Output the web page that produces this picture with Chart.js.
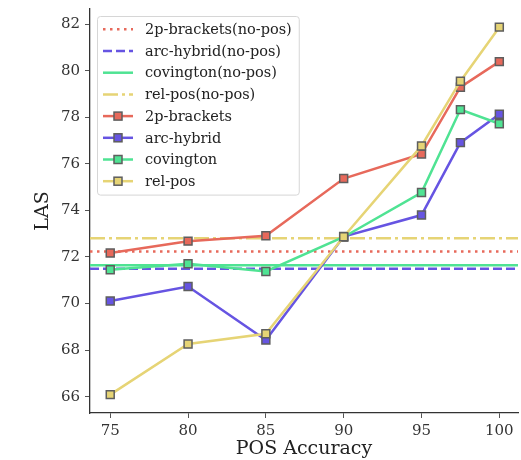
<!DOCTYPE html>
<html>
<head>
<meta charset="utf-8">
<script src="https://cdn.jsdelivr.net/npm/chart.js@4.4.1/dist/chart.umd.min.js"></script>
<style>
  html, body { margin: 0; padding: 0; background: #fff; }
  #wrap { width: 521px; height: 460px; }
</style>
</head>
<body>
<div id="wrap"><canvas id="las" width="521" height="460"></canvas></div>
<script>
// ---------------- data ----------------
var posAcc = [75, 80, 85, 90, 95, 97.5, 100];
var xTicks = [75, 80, 85, 90, 95, 100];
var yTicks = [66, 68, 70, 72, 74, 76, 78, 80, 82];
var parsers = ["2p-brackets", "arc-hybrid", "covington", "rel-pos"];
var las2p  = [72.17, 72.68, 72.91, 75.37, 76.42, 79.29, 80.39];
var lasArc = [70.11, 70.73, 68.43, 72.88, 73.80, 76.91, 78.13];
var lasCov = [71.45, 71.71, 71.38, 72.86, 74.77, 78.33, 77.72];
var lasRel = [66.09, 68.26, 68.70, 72.87, 76.77, 79.55, 81.87];
var lasNoPos = [72.24, 71.49, 71.64, 72.81];

var colors = ['#e7695b', '#6654e2', '#4fe393', '#e6d475'];
var dashes = [[2.5, 4.5], [9, 4], [], [15, 4, 3, 4]];
var xMin = 73.7, xMax = 101.2;
var serif = "'DejaVu Serif', 'Liberation Serif', serif";

var series = [las2p, lasArc, lasCov, lasRel];
var datasets = [];
var i;

// flat lines for the no-pos baselines
for (i = 0; i < parsers.length; i++) {
  datasets.push({
    label: parsers[i] + '(no-pos)',
    data: [{x: xMin, y: lasNoPos[i]}, {x: xMax, y: lasNoPos[i]}],
    borderColor: colors[i],
    borderWidth: 2.5,
    borderDash: dashes[i],
    pointRadius: 0,
    showLine: true,
    order: 20 - i
  });
}
// the curves with markers
for (i = 0; i < parsers.length; i++) {
  datasets.push({
    label: parsers[i],
    data: posAcc.map(function (x, j) { return {x: x, y: series[i][j]}; }),
    borderColor: colors[i],
    backgroundColor: colors[i],
    borderWidth: 2.5,
    pointStyle: 'rect',
    pointRadius: 5.6,
    pointBorderColor: '#5e5e5e',
    pointBorderWidth: 1.5,
    showLine: true,
    order: 10 - i
  });
}

// legend drawn inside the plot, matplotlib style
var legendBox = {
  id: 'legendBox',
  afterDatasetsDraw: function (chart) {
    var ctx = chart.ctx;
    var area = chart.chartArea;
    var sets = chart.data.datasets;
    ctx.save();
    ctx.font = '14.5px ' + serif;
    var maxW = 0;
    sets.forEach(function (d) { maxW = Math.max(maxW, ctx.measureText(d.label).width); });
    var bx = area.left + 7, by = area.top + 7;
    var bw = 48 + maxW + 7, rowH = 21.7, bh = 8 * rowH + 5;
    ctx.beginPath();
    if (ctx.roundRect) ctx.roundRect(bx + 0.5, by + 0.5, bw, bh, 3); else ctx.rect(bx + 0.5, by + 0.5, bw, bh);
    ctx.fillStyle = 'rgba(255,255,255,0.85)';
    ctx.fill();
    ctx.strokeStyle = '#d6d6d6';
    ctx.lineWidth = 1;
    ctx.stroke();
    sets.forEach(function (d, k) {
      var cy = by + 13.3 + k * rowH;
      ctx.beginPath();
      ctx.setLineDash(d.borderDash || []);
      ctx.strokeStyle = d.borderColor;
      ctx.lineWidth = 2.5;
      ctx.moveTo(bx + 6, cy);
      ctx.lineTo(bx + 36, cy);
      ctx.stroke();
      ctx.setLineDash([]);
      if (d.pointRadius > 0) {
        var s = 4;
        ctx.fillStyle = d.backgroundColor;
        ctx.fillRect(bx + 21 - s, cy - s, 2 * s, 2 * s);
        ctx.strokeStyle = '#5e5e5e';
        ctx.lineWidth = 1.5;
        ctx.strokeRect(bx + 21 - s, cy - s, 2 * s, 2 * s);
      }
      ctx.fillStyle = '#222';
      ctx.textBaseline = 'middle';
      ctx.fillText(d.label, bx + 48, cy + 1);
    });
    ctx.restore();
  }
};

new Chart(document.getElementById('las'), {
  type: 'scatter',
  data: { datasets: datasets },
  plugins: [legendBox],
  options: {
    responsive: false,
    animation: false,
    devicePixelRatio: 1,
    layout: { autoPadding: false, padding: { top: 9, right: 3, left: 0, bottom: 0 } },
    elements: { line: { tension: 0 } },
    plugins: { legend: { display: false }, tooltip: { enabled: false } },
    scales: {
      x: {
        type: 'linear',
        min: xMin, max: xMax,
        afterBuildTicks: function (s) { s.ticks = xTicks.map(function (v) { return {value: v}; }); },
        afterFit: function (s) { s.height = 47; s.paddingLeft = 0; s.paddingRight = 0; },
        grid: { drawOnChartArea: false, drawTicks: true, tickLength: 5, color: '#555' },
        border: { display: true, color: '#333', width: 1.3 },
        ticks: { color: '#333', padding: 4, font: { family: serif, size: 15 }, maxRotation: 0 },
        title: { display: true, text: 'POS Accuracy', color: '#222', padding: { top: 0, bottom: 0 }, font: { family: serif, size: 19 } }
      },
      y: {
        type: 'linear',
        min: 65.3, max: 82.65,
        afterBuildTicks: function (s) { s.ticks = yTicks.map(function (v) { return {value: v}; }); },
        afterFit: function (s) { s.width = 90; s.paddingTop = 0; s.paddingBottom = 0; },
        grid: { drawOnChartArea: false, drawTicks: true, tickLength: 5, color: '#555' },
        border: { display: true, color: '#333', width: 1.3 },
        ticks: { color: '#333', padding: 5, font: { family: serif, size: 15 } },
        title: { display: true, text: 'LAS', color: '#222', padding: { top: 32, bottom: 0 }, font: { family: serif, size: 19 } }
      }
    }
  }
});
</script>
</body>
</html>
